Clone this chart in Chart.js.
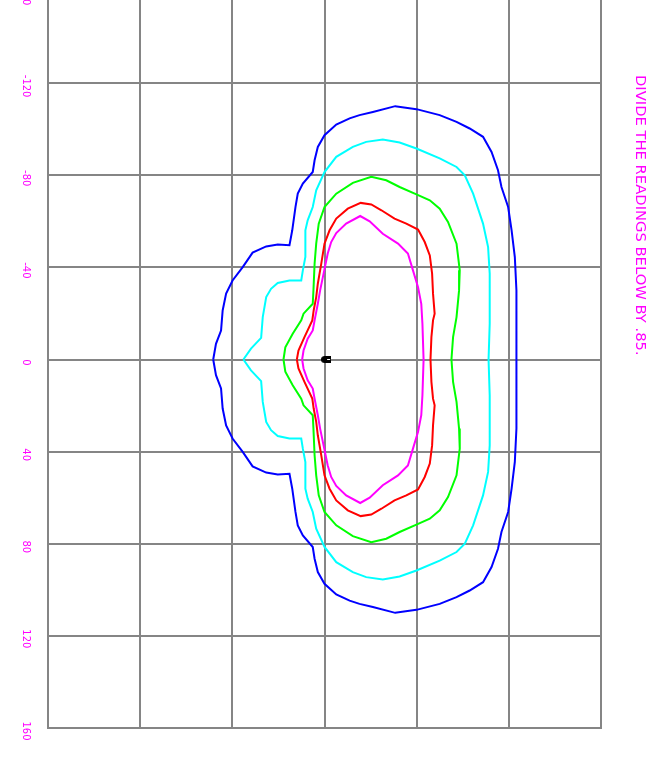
<!DOCTYPE html>
<html>
<head>
<meta charset="utf-8">
<script src="https://cdn.jsdelivr.net/npm/chart.js@4/dist/chart.umd.min.js"></script>
<style>
html,body{margin:0;padding:0;background:#fff;overflow:hidden;width:646px;height:762px;}
#wrap{position:absolute;left:0;top:-20px;width:646px;height:782px;}
#note{position:absolute;left:632px;top:75px;writing-mode:vertical-rl;font-family:"DejaVu Sans";font-size:14.75px;line-height:18px;color:#ff00ff;white-space:nowrap;}
</style>
</head>
<body>
<div id="wrap"><canvas id="c" width="646" height="782"></canvas></div>
<div id="note">DIVIDE THE READINGS BELOW BY .85.</div>
<script>
// Axis ticks
const xTicks = [-120, -80, -40, 0, 40, 80, 120];
const yTicks = [-160, -120, -80, -40, 0, 40, 80, 120, 160];

// Contours [x, y]
const blueContour = [[-48.3,0],[-47.1,-6.8],[-44.9,-12.6],[-44.2,-21.3],[-42.7,-28.6],[-39.9,-34.3],[-35.5,-40.1],[-31.2,-46.4],[-25.3,-49.1],[-20.3,-49.9],[-15.2,-49.6],[-14.0,-56.1],[-12.6,-66.2],[-11.6,-72.0],[-9.4,-76.4],[-5.1,-81.4],[-4.3,-86.5],[-2.9,-92.3],[0,-97.4],[5.1,-102.0],[10.9,-104.7],[15.2,-106.1],[21.0,-107.5],[30.7,-110.0],[39.9,-108.7],[50.0,-106.1],[57.3,-103.2],[63.0,-100.3],[68.8,-96.7],[72.5,-90.1],[75.3,-82.2],[76.8,-74.9],[79.7,-66.2],[81.2,-56.1],[82.6,-44.5],[83.3,-30.0],[83.3,-15.7],[83.3,0],
 [83.3,15.7],[83.3,30.0],[82.6,44.5],[81.2,56.1],[79.7,66.2],[76.8,74.9],[75.3,82.2],[72.5,90.1],[68.8,96.7],[63.0,100.3],[57.3,103.2],[50.0,106.1],[39.9,108.7],[30.7,110.0],[21.0,107.5],[15.2,106.1],[10.9,104.7],[5.1,102.0],[0,97.4],[-2.9,92.3],[-4.3,86.5],[-5.1,81.4],[-9.4,76.4],[-11.6,72.0],[-12.6,66.2],[-14.0,56.1],[-15.2,49.6],[-20.3,49.9],[-25.3,49.1],[-31.2,46.4],[-35.5,40.1],[-39.9,34.3],[-42.7,28.6],[-44.2,21.3],[-44.9,12.6],[-47.1,6.8],[-48.3,0]];

const cyanContour = [[-35.2,0],[-31.9,-4.7],[-27.5,-9.4],[-26.8,-18.4],[-25.3,-27.1],[-23.2,-30.7],[-20.3,-33.2],[-15.2,-34.3],[-10.1,-34.3],[-9.4,-38.7],[-8.3,-44.5],[-8.3,-56.1],[-7.3,-60.4],[-5.1,-66.2],[-3.6,-73.5],[0,-81.4],[5.1,-88.0],[12.3,-92.3],[18.1,-94.5],[25.3,-95.5],[32.6,-94.2],[39.9,-91.6],[50.0,-87.3],[57.3,-83.6],[60.9,-80.0],[64.5,-72.0],[68.8,-59.0],[71.0,-48.8],[71.7,-37.3],[71.7,-15.5],[71.2,0],
 [71.7,15.5],[71.7,37.3],[71.0,48.8],[68.8,59.0],[64.5,72.0],[60.9,80.0],[57.3,83.6],[50.0,87.3],[39.9,91.6],[32.6,94.2],[25.3,95.5],[18.1,94.5],[12.3,92.3],[5.1,88.0],[0,81.4],[-3.6,73.5],[-5.1,66.2],[-7.3,60.4],[-8.3,56.1],[-8.3,44.5],[-9.4,38.7],[-10.1,34.3],[-15.2,34.3],[-20.3,33.2],[-23.2,30.7],[-25.3,27.1],[-26.8,18.4],[-27.5,9.4],[-31.9,4.7],[-35.2,0]];

const greenContour = [[-17.8,0],[-17.0,-5.3],[-13.8,-11.2],[-10.1,-17.0],[-9.1,-19.9],[-5.1,-24.2],[-4.8,-30.0],[-4.3,-41.6],[-3.6,-50.3],[-2.5,-59.0],[0,-66.2],[5.1,-72.0],[12.3,-76.7],[20.3,-79.3],[26.8,-77.8],[32.6,-74.9],[39.9,-71.7],[45.7,-69.1],[50.0,-65.5],[53.6,-59.7],[57.3,-50.3],[58.7,-38.7],[58.4,-30.0],[57.3,-18.4],[55.8,-9.7],[55.1,0],
 [55.8,9.7],[57.3,18.4],[58.4,30.0],[58.7,38.7],[57.3,50.3],[53.6,59.7],[50.0,65.5],[45.7,69.1],[39.9,71.7],[32.6,74.9],[26.8,77.8],[20.3,79.3],[12.3,76.7],[5.1,72.0],[0,66.2],[-2.5,59.0],[-3.6,50.3],[-4.3,41.6],[-4.8,30.0],[-5.1,24.2],[-9.1,19.9],[-10.1,17.0],[-13.8,11.2],[-17.0,5.3],[-17.8,0]];

const redContour = [[-12.0,0],[-11.3,-3.9],[-8.7,-9.7],[-5.3,-17.0],[-4.7,-21.3],[-3.6,-27.1],[-2.9,-32.9],[-1.4,-41.6],[0,-50.3],[2.2,-56.1],[5.1,-61.2],[10.1,-65.5],[15.7,-68.0],[20.3,-67.3],[24.7,-64.8],[30.4,-61.2],[35.5,-59.0],[40.6,-56.4],[43.5,-51.0],[45.7,-45.2],[46.7,-37.3],[47.1,-28.6],[47.8,-19.9],[47.1,-17.0],[46.4,-9.7],[46.0,0],
 [46.4,9.7],[47.1,17.0],[47.8,19.9],[47.1,28.6],[46.7,37.3],[45.7,45.2],[43.5,51.0],[40.6,56.4],[35.5,59.0],[30.4,61.2],[24.7,64.8],[20.3,67.3],[15.7,68.0],[10.1,65.5],[5.1,61.2],[2.2,56.1],[0,50.3],[-1.4,41.6],[-2.9,32.9],[-3.6,27.1],[-4.7,21.3],[-5.3,17.0],[-8.7,9.7],[-11.3,3.9],[-12.0,0]];

const magentaContour = [[-9.7,0],[-9.1,-3.9],[-7.3,-9.0],[-5.1,-12.6],[-4.3,-17.0],[-2.9,-24.2],[-1.9,-30.0],[-0.4,-37.3],[1.4,-46.0],[2.9,-51.0],[5.1,-54.9],[9.4,-59.0],[15.5,-62.3],[19.6,-60.0],[25.3,-54.6],[31.9,-50.3],[36.2,-46.0],[38.4,-38.7],[40.6,-31.4],[42.0,-24.2],[42.5,-15.5],[43.0,0],
 [42.5,15.5],[42.0,24.2],[40.6,31.4],[38.4,38.7],[36.2,46.0],[31.9,50.3],[25.3,54.6],[19.6,60.0],[15.5,62.3],[9.4,59.0],[5.1,54.9],[2.9,51.0],[1.4,46.0],[-0.4,37.3],[-1.9,30.0],[-2.9,24.2],[-4.3,17.0],[-5.1,12.6],[-7.3,9.0],[-9.1,3.9],[-9.7,0]];

const luminaire = [[0.7, 0]];

const toPts = a => a.map(p => ({x: p[0], y: p[1]}));

// marker glyph
const mk = document.createElement('canvas');
mk.width = 10; mk.height = 7;
(function(){
  const g = mk.getContext('2d');
  g.fillStyle = '#000';
  g.beginPath();
  g.moveTo(3.5,0); g.lineTo(10,0); g.lineTo(10,7); g.lineTo(3.5,7);
  g.arc(3.5,3.5,3.5,Math.PI/2,Math.PI*1.5);
  g.fill();
  g.fillStyle = '#fff';
  g.fillRect(6,3,3,1);
})();

const line = (data, color) => ({data: toPts(data), borderColor: color, borderWidth: 2, showLine: true, pointRadius: 0, tension: 0, fill: false});

const noPad = s => { s.paddingTop = 0; s.paddingBottom = 0; s.paddingLeft = 0; s.paddingRight = 0; };

new Chart(document.getElementById('c'), {
  type: 'scatter',
  data: {
    datasets: [
      line(blueContour, '#0000ff'),
      line(cyanContour, '#00ffff'),
      line(greenContour, '#00ff00'),
      line(redContour, '#ff0000'),
      line(magentaContour, '#ff00ff'),
      {data: toPts(luminaire), pointStyle: mk, pointRadius: 5, showLine: false}
    ]
  },
  options: {
    responsive: false,
    animation: false,
    devicePixelRatio: 1,
    layout: {padding: {left: 0, right: 45, top: 11, bottom: 34}},
    plugins: {legend: {display: false}, tooltip: {enabled: false}},
    scales: {
      x: {
        type: 'linear', min: xTicks[0], max: xTicks[xTicks.length-1],
        afterBuildTicks: s => { s.ticks = xTicks.map(v => ({value: v})); },
        ticks: {display: false},
        grid: {color: '#858585', lineWidth: 2, drawTicks: false},
        border: {color: '#858585', width: 2},
        afterFit: s => { s.height = 0; noPad(s); }
      },
      y: {
        type: 'linear', reverse: true, min: yTicks[0], max: yTicks[yTicks.length-1],
        afterBuildTicks: s => { s.ticks = yTicks.map(v => ({value: v})); },
        ticks: {color: '#ff00ff', font: {family: 'DejaVu Sans', size: 10}, minRotation: -90, maxRotation: -90, crossAlign: 'center', padding: 11, labelOffset: 3, autoSkip: false},
        grid: {color: '#858585', lineWidth: 2, drawTicks: false},
        border: {color: '#858585', width: 2},
        afterFit: s => { s.width = 48; noPad(s); }
      }
    }
  }
});
</script>
</body>
</html>
